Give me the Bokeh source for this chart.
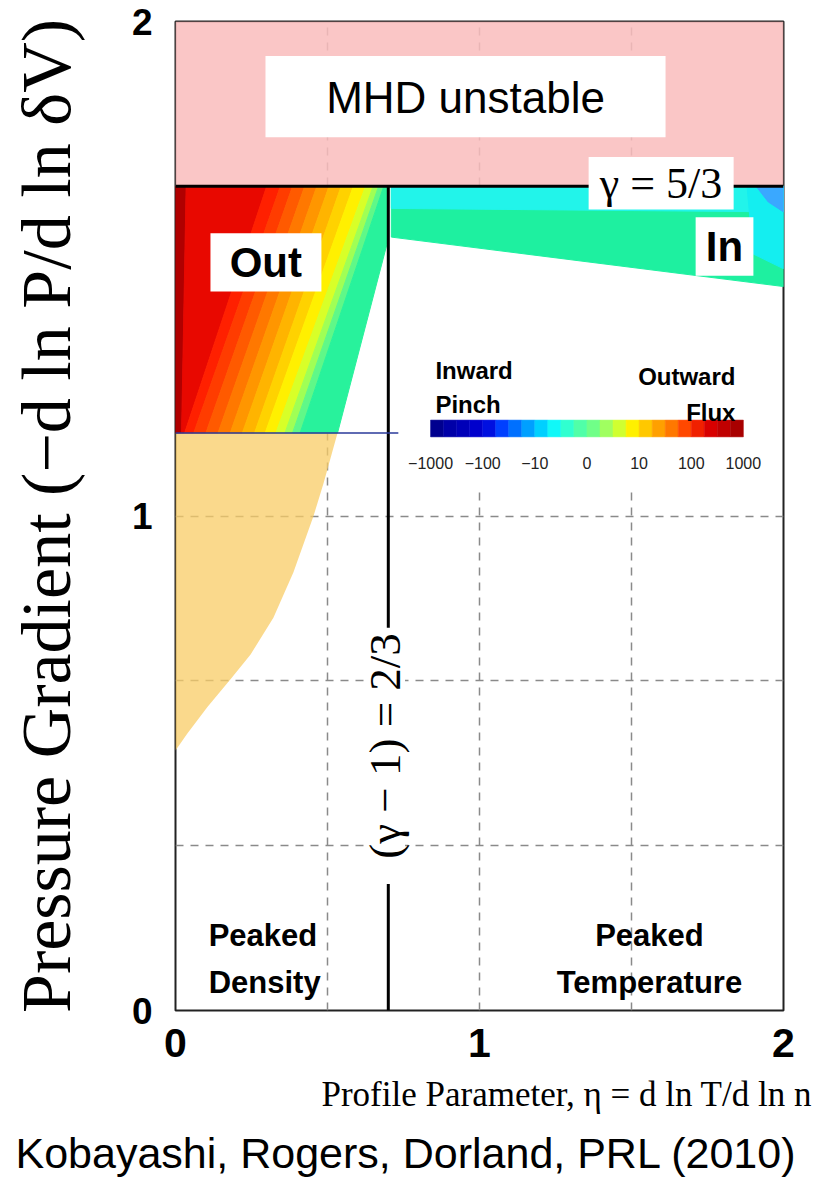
import numpy as np
from bokeh.plotting import figure
from bokeh.models import FixedTicker, Title, Range1d
from bokeh.core.properties import value
from bokeh.embed import file_html
from bokeh.resources import INLINE

# ---------------- data ----------------
x_ticks = [0, 1, 2]
y_ticks = [0, 1, 2]
x_tick_labels = ["0", "1", "2"]
y_tick_labels = ["0", "1", "2"]
grid_x = [0.5, 1.0, 1.5]
grid_y = [1 / 3, 2 / 3, 1.0]

x_max = 2.0
y_max = 2.0
gamma_limit = 5 / 3          # gamma = 5/3 (MHD stability limit)
eta_crit = 0.70              # (gamma - 1) = 2/3 line
out_floor = 1.168            # lower edge of the "Out" flux region

# tan region (left, below the Out region)
tan_x = [0.0, 0.533, 0.487, 0.454, 0.388, 0.322, 0.247, 0.181, 0.105, 0.039, 0.0]
tan_y = [1.168, 1.168, 1.066, 1.0, 0.886, 0.794, 0.72, 0.67, 0.614, 0.56, 0.526]

# Out region: right edge and colour bands (boundaries at bottom and top rows)
out_right_x = [0.533, 0.70, 0.70]
out_right_y = [1.168, 1.56, 5 / 3]
out_colors = ["#B00000", "#E80800", "#FF2000", "#FF3C00", "#FF5A00", "#FF7800",
              "#FF9600", "#FFB400", "#FFD200", "#FFF000", "#D8FF28", "#A0FF55",
              "#60F888", "#28F29C"]
out_bound_bottom = [0.02, 0.03, 0.06, 0.10, 0.14, 0.18, 0.22, 0.26, 0.295, 0.33, 0.36,
                    0.385, 0.41]
out_bound_top = [0.035, 0.30, 0.345, 0.385, 0.425, 0.465, 0.505, 0.545, 0.585, 0.625,
                 0.65, 0.668, 0.685]

# In region (inward pinch), polygons and colours
in_xs = [[0.71, 2.0, 2.0, 0.71],
         [0.71, 2.0, 2.0, 0.71],
         [1.88, 2.0, 2.0, 1.90],
         [1.91, 2.0, 2.0, 1.95]]
in_ys = [[5 / 3, 5 / 3, 1.464, 1.564],
         [5 / 3, 5 / 3, 1.615, 1.622],
         [5 / 3, 5 / 3, 1.50, 1.53],
         [5 / 3, 5 / 3, 1.615, 1.635]]
in_colors = ["#1EF0A0", "#22F4EA", "#14EEF0", "#3AA8FF"]

# colour bar
cbar_colors = ["#00008F", "#0000A8", "#0000B8", "#0000CC", "#0010E0", "#0040FF",
               "#0070FF", "#00A0FF", "#00D0FF", "#10F8F8", "#30FFD0", "#50FFA8",
               "#70FF88", "#A0FF60", "#D0FF30", "#FFF000", "#FFC800", "#FFA000",
               "#FF7800", "#FF4800", "#F02000", "#D80000", "#C00000", "#A80000"]
cbar_tick_labels = ["\u22121000", "\u2212100", "\u221210", "0", "10", "100", "1000"]

# ---------------- figure ----------------
p = figure(width=821, height=1180, x_range=Range1d(0, x_max), y_range=Range1d(0, y_max),
           output_backend="svg", toolbar_location=None,
           min_border_left=175, min_border_right=38, min_border_top=21, min_border_bottom=170,
           background_fill_color="white", border_fill_color="white")
p.outline_line_color = "#222222"
p.outline_line_width = 2

p.xaxis.ticker = FixedTicker(ticks=x_ticks)
p.xaxis.major_label_overrides = {t: l for t, l in zip(x_ticks, x_tick_labels)}
p.yaxis.ticker = FixedTicker(ticks=y_ticks)
p.yaxis.major_label_overrides = {t: l for t, l in zip(y_ticks, y_tick_labels)}
for ax in (p.xaxis, p.yaxis):
    ax.major_label_text_font = "Liberation Sans"
    ax.major_label_text_font_style = "bold"
    ax.major_label_text_color = "black"
    ax.major_tick_line_color = None
    ax.minor_tick_line_color = None
    ax.axis_line_color = None
p.xaxis.major_label_text_font_size = "41px"
p.yaxis.major_label_text_font_size = "37px"
p.xaxis.major_label_standoff = 12
p.yaxis.major_label_standoff = 17

p.yaxis.axis_label = "Pressure Gradient (\u2212d ln P/d ln \u03b4V)"
p.yaxis.axis_label_text_font = "Liberation Serif"
p.yaxis.axis_label_text_font_style = "normal"
p.yaxis.axis_label_text_font_size = "70px"
p.yaxis.axis_label_text_color = "black"
p.yaxis.axis_label_standoff = 44

p.xgrid.ticker = FixedTicker(ticks=grid_x)
p.ygrid.ticker = FixedTicker(ticks=grid_y)
for g in (p.xgrid, p.ygrid):
    g.grid_line_color = "#8a8a8a"
    g.grid_line_dash = "8 7"
    g.grid_line_width = 1.5

t1 = Title(text="Profile Parameter, \u03b7 = d ln T/d ln n", align="left", offset=146,
           text_font="Liberation Serif", text_font_style="normal", text_font_size="35px",
           text_color="black", standoff=26)
t2 = Title(text="Kobayashi, Rogers, Dorland, PRL (2010)", align="left", offset=-160,
           text_font="Liberation Sans", text_font_style="normal", text_font_size="43px",
           text_color="black", standoff=0)
p.add_layout(t1, "below")
p.add_layout(t2, "below")

# ---------------- regions ----------------
# MHD unstable (pink)
p.quad(left=[0], right=[x_max], bottom=[gamma_limit], top=[y_max],
       fill_color="#F9BCBC", fill_alpha=0.85, line_color=None)

# tan region
p.patch(tan_x, tan_y, fill_color="#F8CC66", fill_alpha=0.75, line_color=None)

# Out region colour bands
n = len(out_colors)
xs, ys = [], []
for i in range(n):
    if i == 0:
        lb, lt = 0.0, 0.0
    else:
        lb, lt = out_bound_bottom[i - 1], out_bound_top[i - 1]
    if i < n - 1:
        rx = [out_bound_bottom[i], out_bound_top[i]]
        ry = [out_floor, gamma_limit]
    else:
        rx = list(out_right_x)
        ry = list(out_right_y)
    xs.append([lb] + rx + [lt])
    ys.append([out_floor] + ry + [gamma_limit])
p.patches(xs, ys, fill_color=out_colors, line_color=out_colors, line_width=1)

# white backing of the colour-bar inset (under the In region)
p.quad(left=[0.72], right=[1.99], bottom=[1.06], top=[1.60], fill_color="white", line_color=None)

# In region
p.patches(in_xs, in_ys, fill_color=in_colors, line_color=in_colors, line_width=1)

# colour bar
cb_left, cb_right, cb_bottom, cb_top = 0.839, 1.868, 1.160, 1.194
m = len(cbar_colors)
edges = np.linspace(cb_left, cb_right, m + 1)
p.quad(left=edges[:-1], right=edges[1:], bottom=cb_bottom, top=cb_top,
       fill_color=cbar_colors, line_color=cbar_colors, line_width=0.5)
tick_x = np.linspace(cb_left, cb_right, len(cbar_tick_labels))
p.text(x=tick_x, y=[1.107] * len(tick_x), text=cbar_tick_labels,
       text_font=value("Liberation Sans"), text_font_size="16px",
       text_align="center", text_baseline="middle", text_color="#222222")
p.text(x=[0.855, 0.855], y=[1.294, 1.226], text=["Inward", "Pinch"],
       text_font=value("Liberation Sans"), text_font_style="bold", text_font_size="24px",
       text_align="left", text_baseline="alphabetic", text_color="black")
p.text(x=[1.842, 1.842], y=[1.282, 1.21], text=["Outward", "Flux"],
       text_font=value("Liberation Sans"), text_font_style="bold", text_font_size="24px",
       text_align="right", text_baseline="alphabetic", text_color="black")

# boundary lines
p.line([0, x_max], [gamma_limit, gamma_limit], line_color="black", line_width=3)
p.line([eta_crit, eta_crit], [0, gamma_limit], line_color="black", line_width=3)
p.line([0, 0.733], [out_floor, out_floor], line_color="#2a3a9a", line_width=1.5)

# ---------------- label boxes ----------------
box_l = [0.296, 0.115, 1.711, 1.359, 0.625]
box_r = [1.612, 0.480, 1.901, 1.836, 0.755]
box_b = [1.766, 1.454, 1.486, 1.620, 0.256]
box_t = [1.930, 1.572, 1.604, 1.726, 0.774]
p.quad(left=box_l, right=box_r, bottom=box_b, top=box_t, fill_color="white", line_color=None)

p.text(x=[0.954], y=[1.846], text=["MHD unstable"], text_font=value("Liberation Sans"),
       text_font_size="44px", text_align="center", text_baseline="middle", text_color="black")
p.text(x=[0.297, 1.806], y=[1.512, 1.544], text=["Out", "In"], text_font=value("Liberation Sans"),
       text_font_style="bold", text_font_size="42px", text_align="center", text_baseline="middle",
       text_color="black")
p.text(x=[1.597], y=[1.673], text=["\u03b3 = 5/3"], text_font=value("Liberation Serif"),
       text_font_size="44px", text_align="center", text_baseline="middle", text_color="black")
p.text(x=[0.690], y=[0.535], text=["(\u03b3 \u2212 1) = 2/3"], angle=np.pi / 2,
       text_font=value("Liberation Serif"), text_font_size="45px", text_align="center",
       text_baseline="middle", text_color="black")
p.text(x=[0.109, 0.109], y=[0.152, 0.056], text=["Peaked", "Density"],
       text_font=value("Liberation Sans"), text_font_style="bold", text_font_size="31px",
       text_align="left", text_baseline="alphabetic", text_color="black")
p.text(x=[1.559, 1.559], y=[0.152, 0.056], text=["Peaked", "Temperature"],
       text_font=value("Liberation Sans"), text_font_style="bold", text_font_size="31px",
       text_align="center", text_baseline="alphabetic", text_color="black")

open("out.html", "w").write(file_html(p, INLINE))
